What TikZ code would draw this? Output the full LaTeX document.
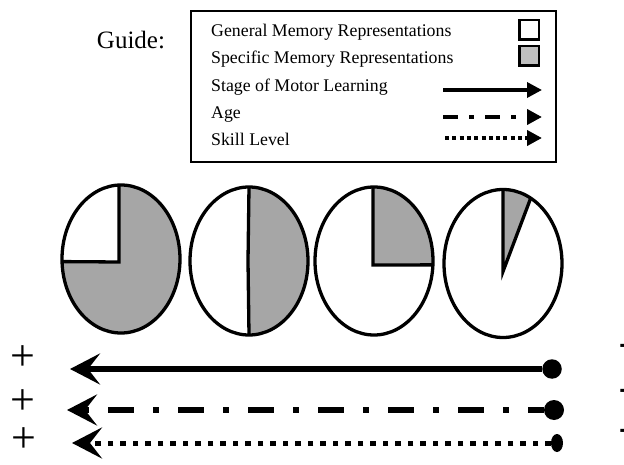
\documentclass[tikz,border=0pt]{standalone}
\usepackage{fontspec}
\setmainfont{Liberation Serif}
\usetikzlibrary{arrows.meta,shapes.geometric}
\definecolor{piegray}{gray}{0.65}
\definecolor{keygray}{gray}{0.75}

\begin{document}
\begin{tikzpicture}[x=1pt,y=1pt,
    legendtext/.style={anchor=base west,inner sep=0pt,font=\fontsize{17.8}{20}\selectfont},
    keybox/.style={draw,line width=2.5pt,minimum size=19.5pt,inner sep=0pt},
    bigtip/.style={-{Stealth[length=30pt,width=31pt,inset=12pt]}},
    smalltip/.style={-{Triangle[length=15pt,width=15pt]}},
    sign/.style={inner sep=0pt,font=\fontsize{44}{48}\selectfont},
    pie/.style={line width=3.3pt}]
    \useasboundingbox (0,0) rectangle (624,-465);

    \node[anchor=base,font=\fontsize{25}{30}\selectfont] (guide) at (131,-49) {Guide:};
    \draw[line width=2pt] (191,-11) rectangle (556,-162);
    \node[legendtext] (general) at (211,-37) {General Memory Representations};
    \node[legendtext] (specific) at (211,-64) {Specific Memory Representations};
    \node[legendtext] (stage) at (211,-92) {Stage of Motor Learning};
    \node[legendtext] (age) at (211,-119) {Age};
    \node[legendtext] (skill) at (211,-146) {Skill Level};
    \node[keybox] (whitekey) at (529,-30) {};
    \node[keybox,fill=keygray] (graykey) at (529,-56) {};

    \coordinate (stageA) at (443,-90); \coordinate (stageB) at (542,-90);
    \coordinate (ageA) at (443,-117); \coordinate (ageB) at (542,-117);
    \coordinate (skillA) at (445,-138); \coordinate (skillB) at (542,-138);
    \draw[line width=3.5pt,smalltip] (stageA) -- (stageB);
    \draw[line width=4pt,smalltip,dash pattern=on 15pt off 11pt on 5pt off 11pt] (ageA) -- (ageB);
    \draw[line width=4pt,smalltip,dash pattern=on 4pt off 3.3pt] (skillA) -- (skillB);

    \foreach \cx/\cy/\dx/\dy/\from/\to in {121/-259/-2/-3/182/452, 249/-261/-1/0/-90/90,
        374/-261/-1/-4/-3/91, 503/-263.5/0/-8/62/90}
    {
        \fill[piegray] (\cx+\dx,\cy+\dy) -- ([shift={(\from:59 and 74)}]\cx,\cy)
            arc[start angle=\from,end angle=\to,x radius=59,y radius=74] -- cycle;
        \draw[pie] ([shift={(\from:59 and 74)}]\cx,\cy) -- (\cx+\dx,\cy+\dy) -- ([shift={(\to:59 and 74)}]\cx,\cy);
        \draw[pie] (\cx,\cy) ellipse[x radius=59,y radius=74];
    }

    \node[sign] (plusS) at (22.7,-358) {+};
    \node[sign] (plusA) at (22.7,-402) {+};
    \node[sign] (plusK) at (24,-440) {+};
    \node[sign,anchor=west,font=\fontsize{44}{48}\selectfont\bfseries] (minusS) at (618,-352) {−};
    \node[sign,anchor=west,font=\fontsize{44}{48}\selectfont\bfseries] (minusA) at (618,-397) {−};
    \node[sign,anchor=west,font=\fontsize{44}{48}\selectfont\bfseries] (minusK) at (618,-437) {−};

    \node[circle,fill,inner sep=0pt,minimum size=19.5pt] (endS) at (552,-369) {};
    \node[circle,fill,inner sep=0pt,minimum size=20pt] (endA) at (554,-410) {};
    \node[ellipse,fill,inner sep=0pt,minimum width=12pt,minimum height=18pt] (endK) at (557,-443) {};
    \coordinate (tipS) at (70,-369);
    \coordinate (tipA) at (67,-410);
    \coordinate (tipK) at (72,-443);
    \draw[line width=6pt,bigtip] (endS) -- (tipS);
    \draw[line width=6.5pt,bigtip,dash pattern=on 26pt off 19pt on 6pt off 19pt,dash phase=10pt] (endA) -- (tipA);
    \draw[line width=5pt,bigtip,dash pattern=on 5.5pt off 7pt] (endK) -- (tipK);
\end{tikzpicture}
\end{document}
